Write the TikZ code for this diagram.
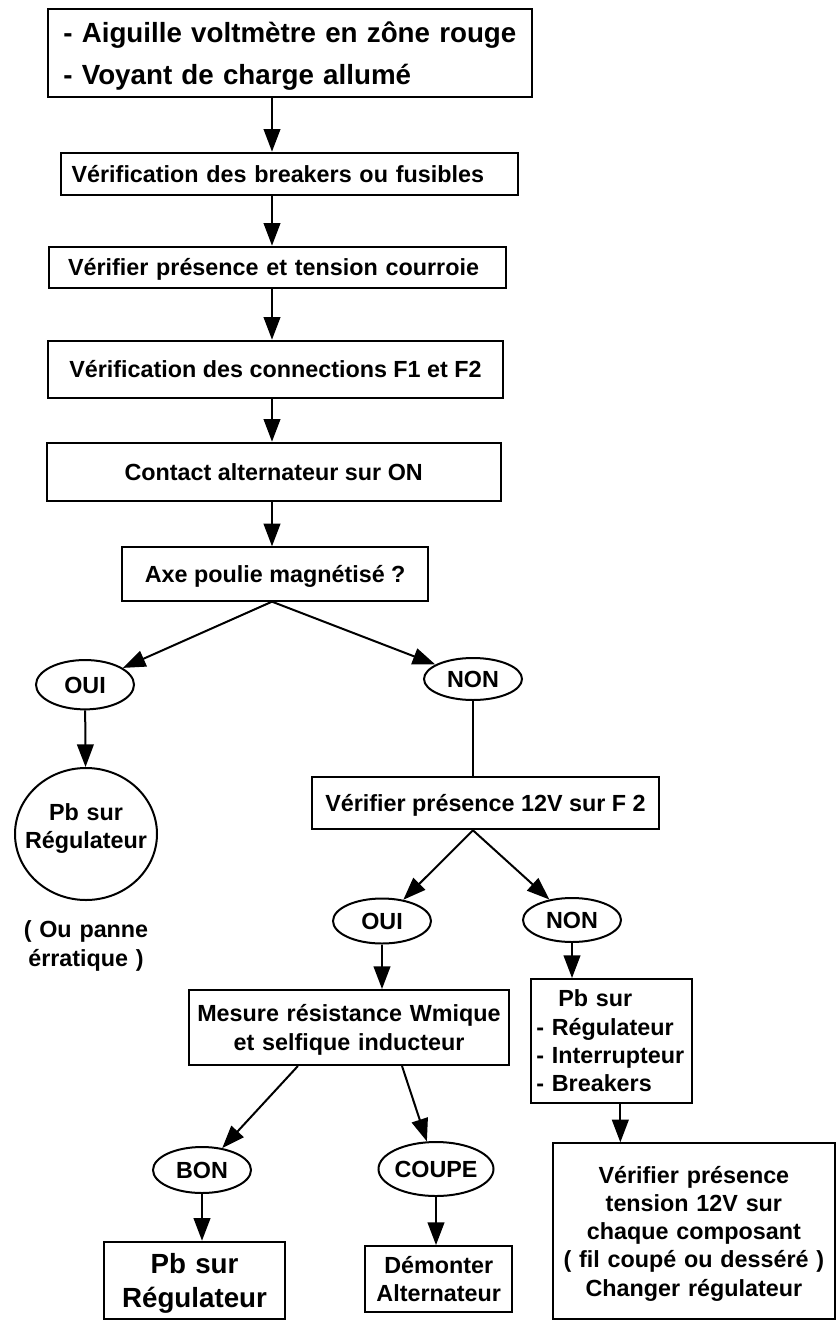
\documentclass[tikz,border=0pt]{standalone}
\usepackage{fontspec}
\setmainfont{Liberation Sans}
\usetikzlibrary{arrows.meta,shapes.geometric}

\newcommand{\vstrut}{\rule[-0.24em]{0pt}{1.2em}}

\tikzset{every picture/.style={line width=1.5pt}}
\tikzset{
  txt/.style={font=\fontsize{17.5}{21.2}\selectfont\bfseries,
    execute at begin node=\vstrut, execute at end node=\vstrut},
  box/.style={txt, draw, rectangle, inner sep=0pt, align=center},
  choice/.style={txt, draw, ellipse, inner sep=0pt},
  arr/.style={-{Triangle[length=17pt,width=12.5pt]}}
}

\begin{document}
\begin{tikzpicture}[x=0.75pt,y=0.75pt,yscale=-1,xscale=1]
    \useasboundingbox (0,0) rectangle (837,1320);
    \coordinate (spine) at (272,0);

    %Shape: Rectangle
    \node [box, align=left, font=\fontsize{20.8}{31.5}\selectfont\bfseries, text width=340pt, inner xsep=11.3pt, minimum height=66pt] (alarm) at (290,53.3) {- Aiguille voltmètre en zône rouge\\- Voyant de charge allumé};
    %Shape: Rectangle
    \node [box, align=left, text width=326.5pt, inner xsep=8.25pt, minimum height=31.7pt] (breakers) at (289.3,173.8) {Vérification des breakers ou fusibles};
    %Shape: Rectangle
    \node [box, align=left, text width=314.25pt, inner xsep=14.25pt, minimum height=30.75pt] (courroie) at (277.5,267.2) {Vérifier présence et tension courroie};
    %Shape: Rectangle
    \node [box, minimum width=340.8pt, minimum height=43.2pt] (connex) at (275.5,369.5) {Vérification des connections F1 et F2};
    %Shape: Rectangle
    \node [box, minimum width=340.5pt, minimum height=43.5pt] (contact) at (273.7,471.7) {Contact alternateur sur ON};
    %Shape: Rectangle
    \node [box, minimum width=229.3pt, minimum height=40pt] (axe) at (275.2,574) {Axe poulie magnétisé ?};

    %Shape: Ellipse
    \node [choice, minimum width=73.5pt, minimum height=37pt] (oui) at (85,684.7) {OUI};
    %Shape: Ellipse
    \node [choice, minimum width=73.5pt, minimum height=31.5pt] (non) at (473,679) {NON};
    %Shape: Ellipse
    \node [choice, minimum width=106.5pt, minimum height=99pt] (regul) at (86,834) {};
    % Text Node
    \node [txt, align=center, text width=100pt, inner sep=0pt] (regultxt) at (86,826) {Pb sur\\Régulateur};
    % Text Node
    \node [txt, align=center, text width=100pt, inner sep=0pt] (panne) at (86,943.5) {( Ou panne\\érratique )};

    %Shape: Rectangle
    \node [box, minimum width=259.8pt, minimum height=39.45pt] (f2) at (485.5,803) {Vérifier présence 12V sur F 2};
    %Shape: Ellipse
    \node [choice, minimum width=73.5pt, minimum height=33.75pt] (oui2) at (382,921) {OUI};
    %Shape: Ellipse
    \node [choice, minimum width=73.5pt, minimum height=33pt] (non2) at (572,920) {NON};

    %Shape: Rectangle
    \node [box, text width=240pt, minimum height=56.25pt] (mesure) at (349,1027.5) {Mesure résistance Wmique\\et selfique inducteur};
    %Shape: Rectangle
    \node [box, align=left, text width=112.75pt, inner xsep=4pt, minimum height=92.8pt] (pbsur) at (611.5,1040.9) {\hspace*{16.5pt}Pb sur\\- Régulateur\\- Interrupteur\\- Breakers};
    %Shape: Ellipse
    \node [choice, minimum width=73.5pt, minimum height=34.5pt] (bon) at (202,1170) {BON};
    %Shape: Ellipse
    \node [choice, inner xsep=-2pt, minimum width=86.25pt, minimum height=40.5pt] (coupe) at (436,1169) {COUPE};

    %Shape: Rectangle
    \node [box, font=\fontsize{20.8}{25.5}\selectfont\bfseries, text width=135.75pt, minimum height=58pt] (regul2) at (194.5,1280.4) {Pb sur\\Régulateur};
    %Shape: Rectangle
    \node [box, text width=110.5pt, minimum height=49.3pt] (demonter) at (438.7,1278.9) {Démonter\\Alternateur};
    %Shape: Rectangle
    \node [box, text width=211.7pt, minimum height=131.8pt] (verif) at (693.9,1231.2) {Vérifier présence\\tension 12V sur\\chaque composant\\( fil coupé ou desséré )\\Changer régulateur};

    %Straight Lines
    \draw [arr] (alarm.south -| spine) -- (breakers.north -| spine);
    \draw [arr] (breakers.south -| spine) -- (courroie.north -| spine);
    \draw [arr] (courroie.south -| spine) -- (connex.north -| spine);
    \draw [arr] (connex.south -| spine) -- (contact.north -| spine);
    \draw [arr] (contact.south -| spine) -- (axe.north -| spine);
    %Straight Lines
    \draw [arr] (axe.south -| spine) -- (oui);
    \draw [arr] (axe.south -| spine) -- (non);
    \draw [arr] (oui) -- (regul);
    \draw (non) -- (non |- f2.north);
    %Straight Lines
    \draw [arr] (f2.south -| non) -- (oui2);
    \draw [arr] (f2.south -| non) -- (non2);
    \draw [arr] (oui2) -- (oui2 |- mesure.north);
    \draw [arr] (non2) -- (non2 |- pbsur.north);
    %Straight Lines
    \draw [arr] (mesure.217) -- (bon);
    \draw [arr] (mesure.324) -- (coupe);
    \draw [arr] (bon) -- (bon |- regul2.north);
    \draw [arr] (coupe) -- (coupe |- demonter.north);
    \draw [arr] (pbsur.278) -- (pbsur.278 |- verif.north);

\end{tikzpicture}
\end{document}
